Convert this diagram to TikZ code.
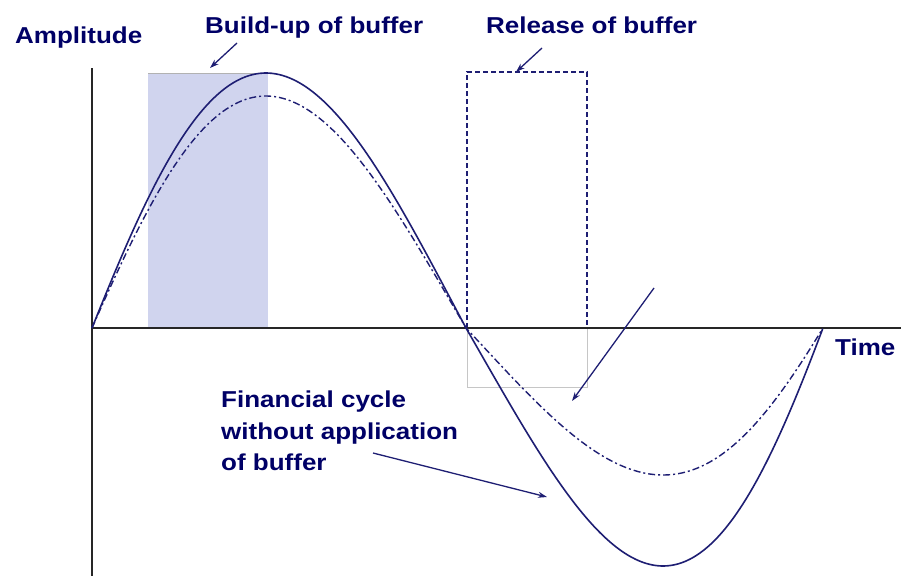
\documentclass[tikz,border=0pt]{standalone}
\usepackage{fontspec}
\setmainfont{Liberation Sans}
\usetikzlibrary{arrows.meta}
\definecolor{navy}{RGB}{0,0,102}
\definecolor{cycline}{RGB}{30,30,115}
\definecolor{buffill}{RGB}{208,212,238}
\begin{document}
\begin{tikzpicture}[x=1pt, y=-1pt,
  lbl/.style={text=navy, font=\bfseries\fontsize{23}{31.5}\selectfont, xscale=1.13, inner sep=0pt},
  cyc/.style={draw=cycline, line width=1.6pt, line join=round},
  ptr/.style={draw=cycline, line width=1.3pt, -{Stealth[length=9pt,width=6pt]}}]
\useasboundingbox (0,0) rectangle (901,576);
% buffer boxes
\fill[buffill] (148,73) rectangle (268,328);
\draw[gray!60, line width=1pt] (148,73) -- (268,73);
\draw[gray!45, line width=1pt] (467,328) rectangle (587,387);
\draw[cycline, line width=1.3pt, dash pattern=on 5pt off 3pt] (467,328) -- (467,72) -- (587,72) -- (587,328);
% axes
\coordinate (O) at (92,328);
\coordinate (ytop) at (92,68);
\coordinate (ybot) at (92,576);
\coordinate (xend) at (901,328);
\draw[black!85, line width=2.4pt] (ytop) -- (ybot);
\draw[black!85, line width=2.4pt] (O) -- (xend);
% cycles
\draw[cyc] plot[smooth, domain=0:1, samples=100] ({92+374*(\x-0.14*\x*(1-\x))},{328-255*sin(180*\x)})
  -- plot[smooth, domain=0:1, samples=100] ({466+357*(\x+0.208*\x*(1-\x))},{328+238*sin(180*\x)});
\draw[cyc, line width=1.4pt, dash pattern=on 7pt off 3pt on 2pt off 3pt]
  plot[smooth, domain=0:1, samples=100] ({92+374*(\x-0.14*\x*(1-\x))},{328-232*sin(180*\x)})
  -- plot[smooth, domain=0:1, samples=100] ({466+357*(\x+0.208*\x*(1-\x))},{328+147*sin(180*\x)});
% labels
\node[lbl, anchor=base west] (amp) at (15,43) {Amplitude};
\node[lbl, anchor=base west] (time) at (835,355) {Time};
\node[lbl, anchor=base west] (build) at (205,33) {Build-up of buffer};
\node[lbl, anchor=base west] (rel) at (486,33) {Release of buffer};
\node[lbl, anchor=north west, align=left] (fin) at (221,391) {Financial cycle\\without application\\of buffer};
% pointers
\coordinate (b1) at (237,43); \coordinate (b2) at (210,68);
\coordinate (r1) at (542,48); \coordinate (r2) at (516,72);
\coordinate (d1) at (654,288); \coordinate (d2) at (572,401);
\coordinate (f1) at (373,453); \coordinate (f2) at (547,497);
\draw[ptr] (b1) -- (b2);
\draw[ptr] (r1) -- (r2);
\draw[ptr] (d1) -- (d2);
\draw[ptr] (f1) -- (f2);
\end{tikzpicture}
\end{document}
